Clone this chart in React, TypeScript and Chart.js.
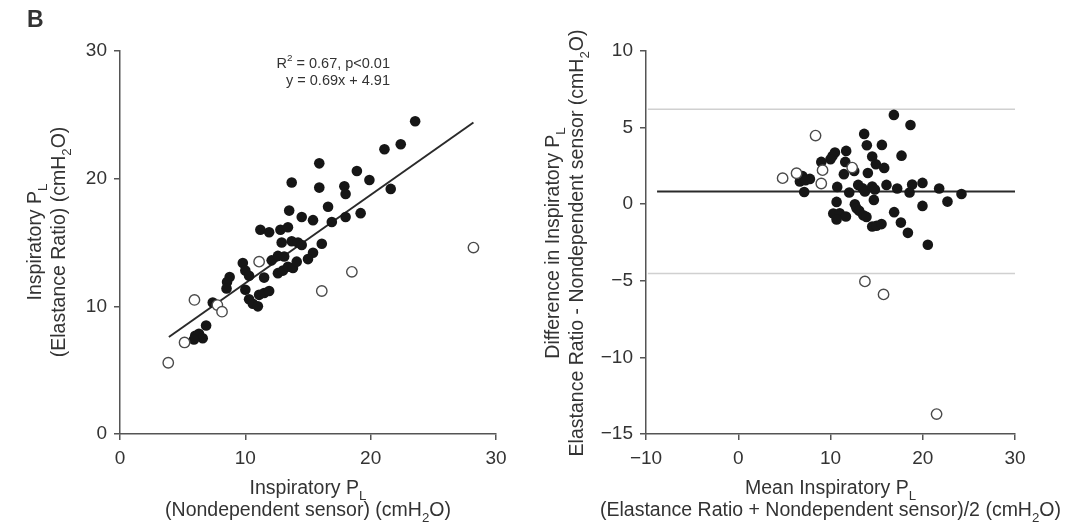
import React, { useEffect, useRef } from 'react';
import { Chart, registerables } from 'chart.js';

Chart.register(...registerables);

// ---------- Panel B, left: Elastance ratio vs Nondependent sensor ----------
const leftFilledX = [23.55, 22.4, 21.1, 15.9, 13.7, 18.9, 19.9, 15.9, 17.9, 18.0, 21.6, 16.6, 13.5, 14.5, 15.4, 16.9, 18.0, 19.2, 11.2, 11.9, 12.8, 13.4, 12.9, 13.7, 14.2, 14.5, 16.1, 15.4, 15.0, 12.1, 12.6, 13.1, 12.6, 13.0, 13.4, 13.8, 14.1, 9.8, 10.0, 10.3, 11.5, 8.75, 8.54, 8.5, 10.0, 11.1, 11.5, 11.9, 10.3, 10.6, 11.0, 7.4, 6.87, 6.0, 6.3, 6.6, 5.9];
const leftFilledY = [24.5, 22.7, 22.3, 21.2, 19.7, 20.6, 19.9, 19.3, 19.4, 18.8, 19.2, 17.8, 17.5, 17.0, 16.75, 16.6, 17.0, 17.3, 16.0, 15.8, 16.0, 16.2, 15.0, 15.1, 15.0, 14.8, 14.9, 14.2, 13.7, 13.6, 13.95, 13.9, 12.6, 12.8, 13.1, 13.0, 13.5, 13.4, 12.8, 12.4, 12.25, 12.3, 11.9, 11.4, 11.3, 10.9, 11.05, 11.2, 10.55, 10.2, 10.0, 10.3, 8.5, 7.7, 7.85, 7.5, 7.4];
const leftOpenX = [3.85, 5.15, 5.94, 7.77, 8.14, 11.1, 16.1, 18.5, 28.2];
const leftOpenY = [5.58, 7.17, 10.5, 10.1, 9.58, 13.5, 11.2, 12.7, 14.6];
const regLineX = [3.9, 28.2];
const regLineY = [7.6, 24.4];
const leftXTicks = [0, 10, 20, 30];
const leftYTicks = [0, 10, 20, 30];

// ---------- Panel B, right: Bland-Altman ----------
const rightFilledX = [16.87, 18.67, 13.65, 13.94, 15.57, 17.7, 14.52, 11.7, 10.48, 10.22, 10.0, 9.0, 11.6, 14.92, 15.82, 12.57, 14.05, 11.45, 6.97, 7.77, 6.68, 7.3, 7.15, 10.73, 13.0, 13.47, 13.73, 14.52, 14.81, 16.07, 17.23, 18.85, 19.97, 18.57, 21.78, 24.2, 22.68, 19.97, 12.03, 14.7, 10.66, 12.64, 12.82, 13.11, 10.3, 11.0, 11.67, 10.66, 13.55, 13.9, 16.9, 17.63, 14.52, 14.99, 15.53, 18.39, 20.55];
const rightFilledY = [5.83, 5.17, 4.59, 3.85, 3.87, 3.17, 3.11, 3.48, 3.37, 3.15, 2.93, 2.76, 2.76, 2.61, 2.37, 2.17, 2.04, 1.96, 1.83, 1.65, 1.48, 1.57, 0.8, 1.13, 1.26, 1.04, 0.83, 1.15, 0.96, 1.26, 1.02, 1.28, 1.39, 0.76, 1.02, 0.67, 0.17, -0.11, 0.76, 0.28, 0.15, 0.0, -0.26, -0.43, -0.61, -0.59, -0.8, -1.0, -0.72, -0.83, -0.52, -1.2, -1.46, -1.41, -1.3, -1.87, -2.65];
const rightOpenX = [8.38, 4.81, 6.32, 9.14, 9.0, 12.35, 13.73, 15.75, 21.5];
const rightOpenY = [4.48, 1.7, 2.02, 2.22, 1.35, 2.39, -5.04, -5.89, -13.7];
const meanBias = 0.83;
const upperLoA = 6.2;
const lowerLoA = -4.52;
const meanLineX = [-8.8, 30];
const loaLineX = [-9.8, 30];
const rightXTicks = [-10, 0, 10, 20, 30];
const rightYTicks = [-15, -10, -5, 0, 5, 10];

// ---------- styles ----------
const FONT = "'Liberation Sans', Arial, Helvetica, sans-serif";
const TEXT = '#333333';
const AXIS = '#555555';
const DOT = '#161616';

type Seg = { t: string; s?: 'sub' | 'sup' };
type TextItem = { segs: Seg[]; x: number; y: number; size: number; align: 'left' | 'center' | 'right'; rot?: number; bold?: boolean };

function drawRich(ctx: CanvasRenderingContext2D, it: TextItem) {
  const w = it.bold ? 'bold ' : '';
  ctx.save();
  ctx.translate(it.x, it.y);
  if (it.rot) ctx.rotate(it.rot);
  ctx.fillStyle = TEXT;
  ctx.textBaseline = 'alphabetic';
  ctx.textAlign = 'left';
  const parts = it.segs.map((s) => {
    const sz = s.s ? it.size * 0.68 : it.size;
    ctx.font = `${w}${sz}px ${FONT}`;
    return { ...s, sz, w: ctx.measureText(s.t).width };
  });
  const total = parts.reduce((a, p) => a + p.w, 0);
  let cx = it.align === 'center' ? -total / 2 : it.align === 'right' ? -total : 0;
  for (const p of parts) {
    ctx.font = `${w}${p.sz}px ${FONT}`;
    const dy = p.s === 'sub' ? it.size * 0.3 : p.s === 'sup' ? -it.size * 0.42 : 0;
    ctx.fillText(p.t, cx, dy);
    cx += p.w;
  }
  ctx.restore();
}

const textPlugin = (items: TextItem[]) => ({
  id: 'richText',
  afterDraw(chart: any) {
    items.forEach((it) => drawRich(chart.ctx, it));
  },
});

const fmt = (v: number) => String(v).replace('-', '\u2212');

function axis(min: number, max: number, ticks: number[], fit: (s: any) => void) {
  return {
    type: 'linear' as const,
    min,
    max,
    afterBuildTicks: (s: any) => {
      s.ticks = ticks.map((v) => ({ value: v }));
    },
    afterFit: fit,
    ticks: {
      font: { family: FONT, size: 19 },
      color: TEXT,
      padding: 7,
      maxRotation: 0,
      autoSkip: false,
      callback: (v: any) => fmt(Number(v)),
    },
    grid: { drawOnChartArea: false, drawTicks: true, tickLength: 6, color: AXIS, lineWidth: 1.5 },
    border: { color: AXIS, width: 1.5 },
  };
}

const zip = (xs: number[], ys: number[]) => xs.map((x, i) => ({ x, y: ys[i] }));

const filledStyle = { pointRadius: 5.3, pointBackgroundColor: DOT, pointBorderColor: DOT, pointBorderWidth: 0, showLine: false };
const openStyle = { pointRadius: 5.2, pointBackgroundColor: '#ffffff', pointBorderColor: '#4a4a4a', pointBorderWidth: 1.4, showLine: false };

const SUB = 19.5;

function leftConfig(): any {
  return {
    type: 'scatter',
    data: {
      datasets: [
        { data: zip(leftOpenX, leftOpenY), ...openStyle, order: 0 },
        { data: zip(leftFilledX, leftFilledY), ...filledStyle, order: 1 },
        { type: 'line', data: zip(regLineX, regLineY), borderColor: '#2a2a2a', borderWidth: 2, pointRadius: 0, fill: false, order: 2 },
      ],
    },
    options: {
      animation: false,
      responsive: false,
      devicePixelRatio: 1,
      layout: { padding: { top: 51, right: 44, bottom: 0, left: 0 } },
      plugins: { legend: { display: false }, tooltip: { enabled: false } },
      scales: {
        x: axis(0, 30, leftXTicks, (s: any) => { s.height = 98; }),
        y: axis(0, 30, leftYTicks, (s: any) => { s.width = 120; }),
      },
    },
    plugins: [
      textPlugin([
        { segs: [{ t: 'B' }], x: 27, y: 27, size: 23, align: 'left', bold: true },
        { segs: [{ t: 'R' }, { t: '2', s: 'sup' }, { t: ' = 0.67, p<0.01' }], x: 390, y: 67.5, size: 14.5, align: 'right' },
        { segs: [{ t: 'y = 0.69x + 4.91' }], x: 390, y: 85, size: 14.5, align: 'right' },
        { segs: [{ t: 'Inspiratory P' }, { t: 'L', s: 'sub' }], x: 308, y: 494, size: SUB, align: 'center' },
        { segs: [{ t: '(Nondependent sensor) (cmH' }, { t: '2', s: 'sub' }, { t: 'O)' }], x: 308, y: 516, size: SUB, align: 'center' },
        { segs: [{ t: 'Inspiratory P' }, { t: 'L', s: 'sub' }], x: 41, y: 242, size: SUB, align: 'center', rot: -Math.PI / 2 },
        { segs: [{ t: '(Elastance Ratio) (cmH' }, { t: '2', s: 'sub' }, { t: 'O)' }], x: 65, y: 242, size: SUB, align: 'center', rot: -Math.PI / 2 },
      ]),
    ],
  };
}

function rightConfig(): any {
  return {
    type: 'scatter',
    data: {
      datasets: [
        { data: zip(rightOpenX, rightOpenY), ...openStyle, order: 0 },
        { data: zip(rightFilledX, rightFilledY), ...filledStyle, order: 1 },
        { type: 'line', data: zip(meanLineX, [meanBias, meanBias]), borderColor: '#2a2a2a', borderWidth: 2, pointRadius: 0, fill: false, order: 2 },
        { type: 'line', data: zip(loaLineX, [upperLoA, upperLoA]), borderColor: '#d0d0d0', borderWidth: 1.5, pointRadius: 0, fill: false, order: 3 },
        { type: 'line', data: zip(loaLineX, [lowerLoA, lowerLoA]), borderColor: '#d0d0d0', borderWidth: 1.5, pointRadius: 0, fill: false, order: 3 },
      ],
    },
    options: {
      animation: false,
      responsive: false,
      devicePixelRatio: 1,
      layout: { padding: { top: 51, right: 65, bottom: 0, left: 0 } },
      plugins: { legend: { display: false }, tooltip: { enabled: false } },
      scales: {
        x: axis(-10, 30, rightXTicks, (s: any) => { s.height = 98; }),
        y: axis(-15, 10, rightYTicks, (s: any) => { s.width = 106; }),
      },
    },
    plugins: [
      textPlugin([
        { segs: [{ t: 'Mean Inspiratory P' }, { t: 'L', s: 'sub' }], x: 290.5, y: 494, size: SUB, align: 'center' },
        { segs: [{ t: '(Elastance Ratio + Nondependent sensor)/2 (cmH' }, { t: '2', s: 'sub' }, { t: 'O)' }], x: 290.5, y: 516, size: SUB, align: 'center' },
        { segs: [{ t: 'Difference in Inspiratory P' }, { t: 'L', s: 'sub' }], x: 19, y: 243, size: SUB, align: 'center', rot: -Math.PI / 2 },
        { segs: [{ t: 'Elastance Ratio - Nondependent sensor (cmH' }, { t: '2', s: 'sub' }, { t: 'O)' }], x: 43, y: 243, size: SUB, align: 'center', rot: -Math.PI / 2 },
      ]),
    ],
  };
}

export default function App() {
  const leftRef = useRef<HTMLCanvasElement>(null);
  const rightRef = useRef<HTMLCanvasElement>(null);
  useEffect(() => {
    const c1 = new Chart(leftRef.current as HTMLCanvasElement, leftConfig());
    const c2 = new Chart(rightRef.current as HTMLCanvasElement, rightConfig());
    return () => {
      c1.destroy();
      c2.destroy();
    };
  }, []);
  return (
    <div style={{ position: 'fixed', left: 0, top: 0, width: 1080, height: 532, background: '#ffffff', overflow: 'hidden' }}>
      <canvas ref={leftRef} width={540} height={532} style={{ position: 'absolute', left: 0, top: 0, width: 540, height: 532 }} />
      <canvas ref={rightRef} width={540} height={532} style={{ position: 'absolute', left: 540, top: 0, width: 540, height: 532 }} />
    </div>
  );
}
